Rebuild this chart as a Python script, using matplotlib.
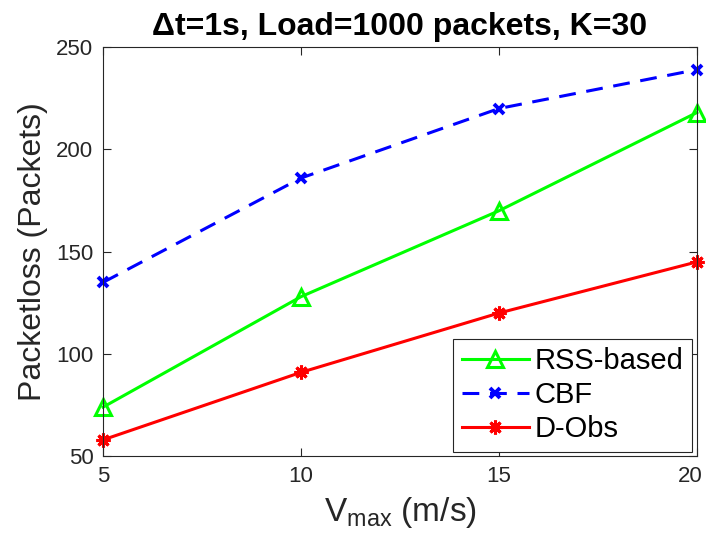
import matplotlib
matplotlib.use('Agg')
import matplotlib.pyplot as plt
import matplotlib.transforms as mtrans

plt.rcParams['font.family'] = ['Liberation Sans', 'DejaVu Sans']
plt.rcParams['mathtext.fontset'] = 'custom'
plt.rcParams['mathtext.rm'] = 'Liberation Sans'

v_max = [5, 10, 15, 20]
rss_based = [74, 128, 170, 218]
cbf = [135, 186, 220, 239]
d_obs = [58, 91, 120, 145]

fig = plt.figure(figsize=(7.06, 5.55), dpi=100)
ax = fig.add_axes([0.146, 0.178, 0.841, 0.737])

ax.plot(v_max, rss_based, color=(0, 1, 0), lw=2.2, marker='^', ms=12,
        mfc='none', mew=2.2, label='RSS-based', clip_on=False)
ax.plot(v_max, cbf, color=(0, 0, 1), lw=2.2, ls=(0, (5.5, 3.5)), marker='x',
        ms=7, mew=2.8, label='CBF', clip_on=False)
ax.plot(v_max, d_obs, color=(1, 0, 0), lw=2.2, marker=(8, 2, 0), ms=10,
        mew=2.2, label='D-Obs', clip_on=False)

ax.set_xlim(5, 20)
ax.set_ylim(50, 250)
ax.set_xticks([5, 10, 15, 20])
ax.set_yticks([50, 100, 150, 200, 250])
ax.tick_params(direction='in', top=True, right=True, labelsize=16,
               length=6, width=0.8, colors='#262626', pad=7)
for s in ax.spines.values():
    s.set_color('#262626')
    s.set_linewidth(0.8)

# keep the last x tick label inside the figure
last = ax.get_xticklabels()[-1]
last.set_ha('right')
last.set_transform(last.get_transform() +
                   mtrans.ScaledTranslation(4 / 72, 0, fig.dpi_scale_trans))

ax.set_title('\u0394t=1s, Load=1000 packets, K=30', fontsize=23,
             fontweight='bold', pad=9)
ax.set_xlabel(r'$\mathregular{V_{max}}$ (m/s)', fontsize=24, color='#262626',
              labelpad=6)
ax.set_ylabel('Packetloss (Packets)', fontsize=23, color='#262626',
              labelpad=6)

leg = ax.legend(loc='lower right', fontsize=21, fancybox=False,
                edgecolor='#262626', framealpha=1, handlelength=2.3,
                borderaxespad=0.15, borderpad=0.3, labelspacing=0.2,
                handletextpad=0.2)
leg.get_frame().set_linewidth(0.8)

fig.savefig('out.png', dpi=100)
